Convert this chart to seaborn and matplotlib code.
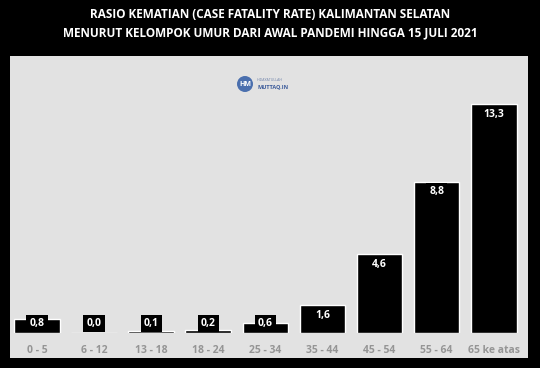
import matplotlib
matplotlib.use("Agg")
import matplotlib.pyplot as plt
import seaborn as sns
import pandas as pd
from matplotlib.patches import Rectangle, Ellipse

categories = ["0 - 5", "6 - 12", "13 - 18", "18 - 24", "25 - 34", "35 - 44", "45 - 54", "55 - 64", "65 ke atas"]
values = [0.8, 0.0, 0.1, 0.2, 0.6, 1.6, 4.6, 8.8, 13.3]
labels = ["0,8", "0,0", "0,1", "0,2", "0,6", "1,6", "4,6", "8,8", "13,3"]

df = pd.DataFrame({"umur": categories, "cfr": values})

sns.set_theme(style="white")
plt.rcParams['font.family'] = ['Open Sans', 'DejaVu Sans']

W, H = 540, 368
fig = plt.figure(figsize=(W/100, H/100), dpi=100, facecolor="black")

# light gray panel
fig.patches.append(Rectangle((10/W, (H-358)/H), 518/W, 302/H, transform=fig.transFigure,
                             facecolor="#e2e2e2", edgecolor="none", zorder=-5))

ax = fig.add_axes([10/W, (H-333)/H, 518/W, 277/H])
ax.set_zorder(2)
ax.set_facecolor("none")
sns.barplot(data=df, x="umur", y="cfr", color="black", width=0.8, ax=ax,
            edgecolor="white", linewidth=1.0, saturation=1)
ax.set_xlim(-0.473, 8.6)
ax.set_ylim(0, 16.1)
for s in ax.spines.values():
    s.set_visible(False)
ax.set_yticks([])
ax.set_xlabel("")
ax.set_ylabel("")
ax.tick_params(axis="x", length=0, pad=8.5, labelsize=7.5, labelcolor="#959595")
for t in ax.get_xticklabels():
    t.set_fontweight("bold")

for i, (v, lab) in enumerate(zip(values, labels)):
    ax.annotate(lab, (i, max(v, 1.15)), xytext=(0, -3.5), textcoords="offset points",
                ha="center", va="top", color="white", fontsize=7.5, fontweight="bold",
                bbox=dict(boxstyle="square,pad=0.3", facecolor="black", edgecolor="none"))

fig.text(270/W, 1-15/H, "RASIO KEMATIAN (CASE FATALITY RATE) KALIMANTAN SELATAN",
         ha="center", va="center", color="white", fontsize=8.5, fontweight="bold")
fig.text(270/W, 1-33/H, "MENURUT KELOMPOK UMUR DARI AWAL PANDEMI HINGGA 15 JULI 2021",
         ha="center", va="center", color="white", fontsize=8.5, fontweight="bold")

# logo
fig.patches.append(Ellipse((245/W, 1-84/H), 16/W, 16/H, transform=fig.transFigure,
                           facecolor="#4a6fae", edgecolor="none", zorder=1))
fig.text(245/W, 1-84.5/H, "HM", ha="center", va="center", color="white", fontsize=5, fontweight="bold")
fig.text(257/W, 1-80/H, "HIDAYATULLAH", ha="left", va="center", color="#6a7fa8", fontsize=2.5)
fig.text(257/W, 1-87/H, "MUTTAQ.IN", ha="left", va="center", color="#3a5a9a", fontsize=4, fontweight="bold")

fig.savefig("out.png", dpi=100, facecolor="black")
